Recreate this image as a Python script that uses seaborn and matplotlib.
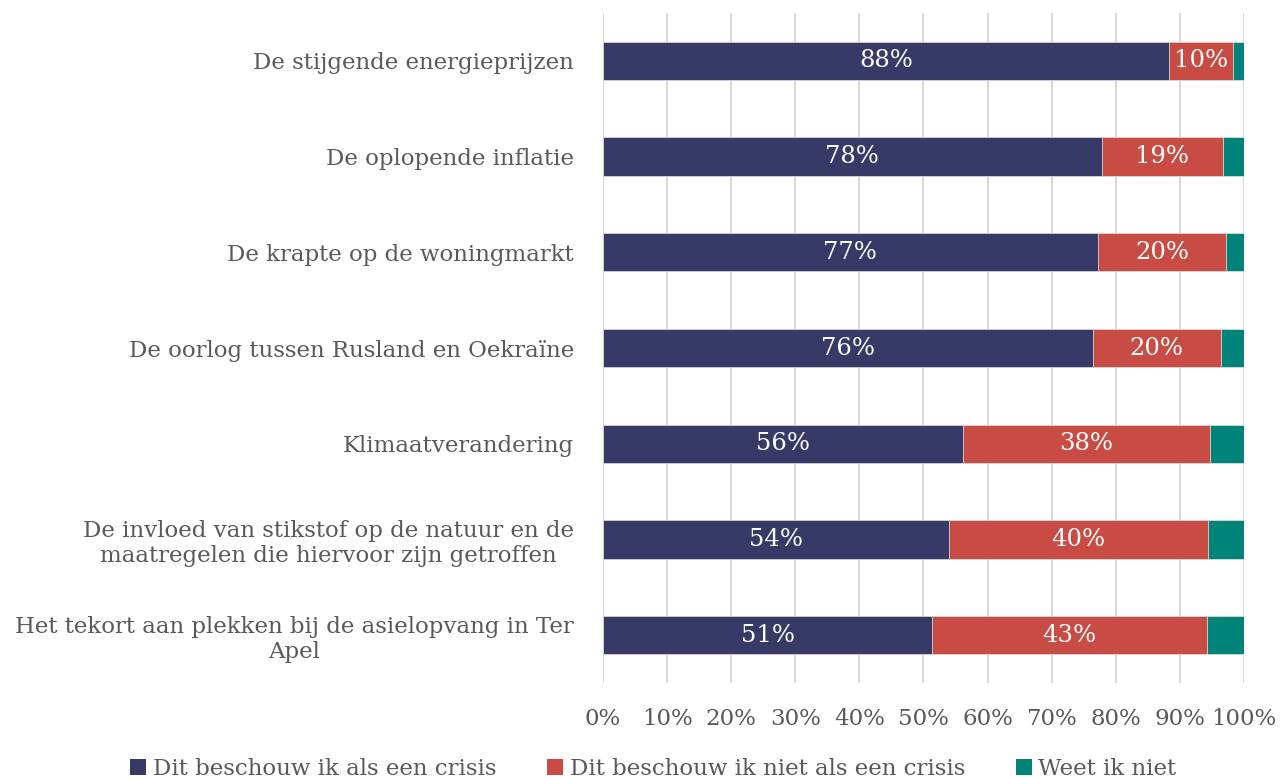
import pandas as pd
import matplotlib.pyplot as plt
import seaborn as sns
from matplotlib.patches import Patch

# -----------------------------
# Data
# -----------------------------
topics = [
    "De stijgende energieprijzen",
    "De oplopende inflatie",
    "De krapte op de woningmarkt",
    "De oorlog tussen Rusland en Oekraïne",
    "Klimaatverandering",
    "De invloed van stikstof op de natuur en de\nmaatregelen die hiervoor zijn getroffen",
    "Het tekort aan plekken bij de asielopvang in Ter\nApel",
]
crisis = [88.3, 77.8, 77.2, 76.4, 56.2, 54.0, 51.4]
geen_crisis = [10.0, 18.9, 20.0, 20.0, 38.5, 40.4, 42.8]
weet_niet = [1.7, 3.3, 2.8, 3.6, 5.3, 5.6, 5.8]

series_names = [
    "Dit beschouw ik als een crisis",
    "Dit beschouw ik niet als een crisis",
    "Weet ik niet",
]
colors = ["#373a67", "#c84c43", "#00847a"]
text_color = "#595959"

# -----------------------------
# Build frame with cumulative ends
# -----------------------------
df = pd.DataFrame({
    "topic": topics,
    "crisis": crisis,
    "geen": geen_crisis,
    "weet": weet_niet,
})
df["end1"] = df["crisis"]
df["end2"] = df["crisis"] + df["geen"]
df["end3"] = df["end2"] + df["weet"]

sns.set_theme(style="white")
plt.rcParams["font.family"] = ["DejaVu Serif"]

fig = plt.figure(figsize=(12.81, 7.79), dpi=100)
ax = fig.add_axes([0.4707, 0.1232, 0.5004, 0.8601])

# stacked bars drawn back to front
for col, c in zip(["end3", "end2", "end1"], colors[::-1]):
    sns.barplot(data=df, x=col, y="topic", orient="h", color=c,
                width=0.4, edgecolor="#d9d9d9", linewidth=0.6,
                saturation=1, ax=ax, zorder=3)

# segment labels
for i, row in df.iterrows():
    ax.text(row["crisis"] / 2, i, f"{round(row['crisis'])}%", color="white",
            ha="center", va="center", fontsize=17.5, zorder=5)
    ax.text(row["crisis"] + row["geen"] / 2, i, f"{round(row['geen'])}%",
            color="white", ha="center", va="center", fontsize=17.5, zorder=5)

ax.set_xlim(0, 100)
ax.set_ylim(6.5, -0.5)
ax.set_xticks(range(0, 101, 10))
ax.set_xticklabels([f"{v}%" for v in range(0, 101, 10)])
ax.set_xlabel("")
ax.set_ylabel("")
ax.grid(axis="x", color="#d9d9d9", linewidth=1.5, zorder=0)
ax.grid(axis="y", visible=False)
ax.set_axisbelow(True)
sns.despine(ax=ax, left=True, bottom=True)

ax.tick_params(axis="x", length=0, pad=18, labelsize=16.5, labelcolor=text_color)
ax.tick_params(axis="y", length=0, pad=21, labelsize=16.5, labelcolor=text_color)
for lbl in ax.get_yticklabels():
    lbl.set_multialignment("center")

handles = [Patch(facecolor=c, edgecolor="none") for c in colors]
fig.legend(handles, series_names, loc="lower center", ncol=3,
           bbox_to_anchor=(0.51, -0.028), frameon=False, fontsize=16.5,
           labelcolor=text_color, handlelength=0.7, handleheight=0.7,
           handletextpad=0.3, columnspacing=2.2)

fig.savefig("out.png", dpi=100)
